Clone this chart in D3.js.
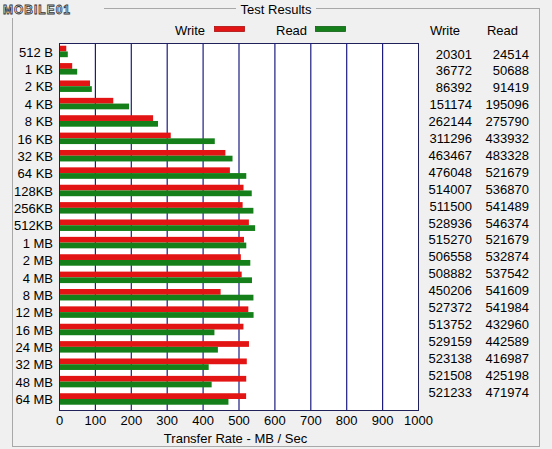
<!DOCTYPE html>
<html>
<head>
<meta charset="utf-8">
<script src="https://cdn.jsdelivr.net/npm/d3@7"></script>
<style>
  body { margin: 0; background: #f0f0f0; }
  text { font-family: "Liberation Sans", Arial, sans-serif; font-size: 13px; fill: #000; }
</style>
</head>
<body>
<div id="chart"></div>
<script>
// transfer sizes
var sizes = ["512 B", "1 KB", "2 KB", "4 KB", "8 KB", "16 KB", "32 KB", "64 KB", "128KB", "256KB",
  "512KB", "1 MB", "2 MB", "4 MB", "8 MB", "12 MB", "16 MB", "24 MB", "32 MB", "48 MB", "64 MB"];

// results in KB/s as listed in the table
var writeVals = [20301, 36772, 86392, 151174, 262144, 311296, 463467, 476048, 514007, 511500,
  528936, 515270, 506558, 508882, 450206, 527372, 513752, 529159, 523138, 521508, 521233];
var readVals = [24514, 50688, 91419, 195096, 275790, 433932, 483328, 521679, 536870, 541489,
  546374, 521679, 532874, 537542, 541609, 541984, 432960, 442589, 416987, 425198, 471974];

var xTicks = [0, 100, 200, 300, 400, 500, 600, 700, 800, 900, 1000];
var series = ["Write", "Read"];

var W = 552, H = 449;
var colors = {Write: "#e31414", Read: "#15801a"};
var plot = {left: 59, right: 418, top: 43, bottom: 410};

var svg = d3.select("#chart")
  .append("svg")
    .attr("width", W)
    .attr("height", H);

svg.append("rect").attr("width", W).attr("height", H).attr("fill", "#f0f0f0");

// group box
svg.append("rect")
  .attr("x", 12.5).attr("y", 8.5)
  .attr("width", 527).attr("height", 438)
  .attr("fill", "none")
  .attr("stroke", "#a8a8a8");
svg.append("rect")
  .attr("x", 236).attr("y", 0)
  .attr("width", 80).attr("height", 16)
  .attr("fill", "#f0f0f0");
svg.append("text")
  .attr("x", 276).attr("y", 9)
  .attr("dy", "0.35em")
  .attr("text-anchor", "middle")
  .text("Test Results");

// watermark logo
svg.append("rect").attr("x", 0).attr("y", 0).attr("width", 104).attr("height", 18).attr("fill", "#f0f0f0");
svg.append("text")
  .attr("x", 3).attr("y", 10)
  .attr("dy", "0.35em")
  .style("font-size", "12px")
  .style("font-weight", "bold")
  .style("letter-spacing", "1px")
  .style("fill", "none")
  .style("stroke", "#333")
  .style("stroke-width", "0.8px")
  .text("MOBILE01");

// scales
var x = d3.scaleLinear()
  .domain([0, 1000])
  .range([plot.left, plot.right]);

var y = d3.scaleBand()
  .domain(sizes)
  .range([plot.top, plot.bottom])
  .paddingInner(0.34)
  .paddingOuter(0.23)
  .align(0.34);

var ySub = d3.scaleBand()
  .domain(series)
  .range([0, y.bandwidth()]);

// plot area
svg.append("rect")
  .attr("x", plot.left + 0.5).attr("y", plot.top + 0.5)
  .attr("width", plot.right - plot.left).attr("height", plot.bottom - plot.top)
  .attr("fill", "#fff")
  .attr("stroke", "#20205a");

// grid lines
svg.append("g")
  .attr("transform", "translate(0," + plot.bottom + ")")
  .call(d3.axisBottom(x).tickValues(xTicks.slice(1, -1)).tickSize(plot.bottom - plot.top).tickFormat(""))
  .call(function(g) { g.select(".domain").remove(); })
  .call(function(g) {
    g.selectAll(".tick line")
      .attr("transform", "translate(0," + -(plot.bottom - plot.top) + ")")
      .attr("stroke", "#1c1c80")
      .attr("stroke-width", 1.2);
  });

// bars
var rows = svg.append("g")
  .selectAll("g")
  .data(sizes)
  .enter()
  .append("g")
    .attr("transform", function(d) { return "translate(0," + y(d) + ")"; });

rows.selectAll("rect")
  .data(function(d, i) {
    return [{s: "Write", v: writeVals[i] / 1000}, {s: "Read", v: readVals[i] / 1000}];
  })
  .enter()
  .append("rect")
    .attr("x", x(0) + 1)
    .attr("y", function(d) { return ySub(d.s); })
    .attr("width", function(d) { return x(d.v) - x(0) - 1; })
    .attr("height", ySub.bandwidth())
    .attr("fill", function(d) { return colors[d.s]; });

// x axis labels
svg.append("g")
  .attr("transform", "translate(0," + (plot.bottom + 5) + ")")
  .call(d3.axisBottom(x).tickValues(xTicks).tickSize(0).tickPadding(0).tickFormat(d3.format("d")))
  .call(function(g) { g.select(".domain").remove(); })
  .call(function(g) {
    g.selectAll("text").attr("font-family", null).attr("font-size", null).attr("fill", null).attr("dy", "0.75em");
  });

svg.append("text")
  .attr("x", (plot.left + plot.right) / 2 - 3)
  .attr("y", 438)
  .attr("dy", "0.35em")
  .attr("text-anchor", "middle")
  .text("Transfer Rate - MB / Sec");

// y axis labels
svg.append("g")
  .attr("transform", "translate(" + plot.left + ",1)")
  .call(d3.axisLeft(y).tickSize(0).tickPadding(6))
  .call(function(g) { g.select(".domain").remove(); })
  .call(function(g) {
    g.selectAll("text").attr("font-family", null).attr("font-size", null).attr("fill", null);
  });

// legend
var legend = svg.append("g")
  .selectAll("g")
  .data(series)
  .enter()
  .append("g")
    .attr("transform", function(d, i) { return "translate(" + (i === 0 ? 175 : 276) + ",0)"; });

legend.append("text")
  .attr("x", 0).attr("y", 30)
  .attr("dy", "0.35em")
  .text(function(d) { return d; });

legend.append("rect")
  .attr("x", 39.5).attr("y", 26.5)
  .attr("width", 30).attr("height", 5)
  .attr("fill", function(d) { return colors[d]; })
  .attr("stroke", function(d) { return d3.color(colors[d]).darker(0.8); })
  .attr("stroke-width", 0.8);

// results table
var yTable = d3.scalePoint()
  .domain(sizes)
  .range([54, 392]);

var cols = [{name: "Write", vals: writeVals, x: 472}, {name: "Read", vals: readVals, x: 529}];

cols.forEach(function(c) {
  svg.append("text")
    .attr("x", c.x - (c.name === "Write" ? 12 : 11))
    .attr("y", 30)
    .attr("dy", "0.35em")
    .attr("text-anchor", "end")
    .text(c.name);

  svg.append("g")
    .selectAll("text")
    .data(sizes)
    .enter()
    .append("text")
      .attr("x", c.x)
      .attr("y", function(d) { return yTable(d); })
      .attr("dy", "0.35em")
      .attr("text-anchor", "end")
      .text(function(d, i) { return c.vals[i]; });
});
</script>
</body>
</html>
